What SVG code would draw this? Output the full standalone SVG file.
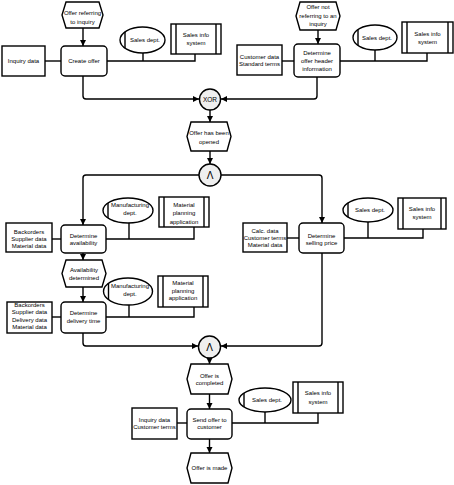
<svg xmlns="http://www.w3.org/2000/svg" width="454" height="485" viewBox="0 0 454 485">
<style>
.s{fill:#fff;stroke:#000;stroke-width:1.4}
.g{fill:#efefef;stroke:#000;stroke-width:1.4}
.l{fill:none;stroke:#000;stroke-width:1.4}
.c{fill:none;stroke:#000;stroke-width:1.4;marker-end:url(#ah)}
text{font-family:"Liberation Sans",Arial,sans-serif;font-size:6px;fill:#000;text-anchor:middle}
.op{font-size:6.5px}
.and{font-size:10px}
</style>
<defs>
<marker id="ah" markerUnits="userSpaceOnUse" markerWidth="7" markerHeight="7" refX="6" refY="3" orient="auto">
<path d="M0,0 L6,3 L0,6 Z" fill="#000"/>
</marker>
</defs>
<rect width="454" height="485" fill="#fff"/>
<g id="connectors">
<line class="l" x1="45" y1="61" x2="61" y2="61"/>
<polyline class="l" points="107,61 195,61 195,54"/>
<line class="l" x1="143" y1="53" x2="143" y2="61"/>
<line class="l" x1="282" y1="61" x2="294" y2="61"/>
<polyline class="l" points="340,61 427,61 427,53"/>
<line class="l" x1="375" y1="50" x2="375" y2="61"/>
<line class="c" x1="83" y1="28" x2="83" y2="46"/>
<line class="c" x1="318" y1="30" x2="318" y2="44"/>
<path class="c" d="M83,76 V96 Q83,99 86,99 H199"/>
<path class="c" d="M317,77 V96 Q317,99 314,99 H221"/>
<line class="c" x1="210" y1="110" x2="210" y2="122"/>
<line class="c" x1="210" y1="151" x2="210" y2="164"/>
<path class="c" d="M199,175 H86 Q83,175 83,178 V225"/>
<path class="c" d="M221,175 H319 Q322,175 322,178 V223"/>
<line class="l" x1="52" y1="239" x2="61" y2="239"/>
<polyline class="l" points="106,239 194,239 194,227"/>
<line class="l" x1="129" y1="223" x2="129" y2="239"/>
<line class="c" x1="83" y1="253" x2="83" y2="260"/>
<line class="c" x1="83" y1="287" x2="83" y2="302"/>
<line class="l" x1="52" y1="317" x2="61" y2="317"/>
<polyline class="l" points="106,317 194,317 194,307"/>
<line class="l" x1="129" y1="305" x2="129" y2="317"/>
<path class="c" d="M83,333 V343 Q83,346 86,346 H198"/>
<path class="c" d="M322,253 V343 Q322,346 319,346 H221"/>
<line class="l" x1="287" y1="238" x2="299" y2="238"/>
<polyline class="l" points="344,238 423,238 423,229"/>
<line class="l" x1="368" y1="222" x2="368" y2="238"/>
<line class="c" x1="209.5" y1="358" x2="209.5" y2="364"/>
<line class="c" x1="209.5" y1="394" x2="209.5" y2="409"/>
<line class="l" x1="177" y1="423" x2="187" y2="423"/>
<polyline class="l" points="232,423 318,423 318,413"/>
<line class="l" x1="265" y1="412" x2="265" y2="423"/>
<line class="c" x1="209.5" y1="439" x2="209.5" y2="453"/>
</g>
<g id="e1"><path class="s" d="M66,2 H99 L103,15 L99,28 H66 L62,15 Z"/><text x="82.5" y="14.8">Offer referring</text><text x="82.5" y="23.8">to inquiry</text></g>
<g id="e2"><path class="s" d="M300,2 H336 L340,16 L336,30 H300 L296,16 Z"/><text x="318" y="9.4">Offer not</text><text x="318" y="18">referring to an</text><text x="318" y="26.2">inquiry</text></g>
<g id="f1"><rect class="s" x="61" y="46" width="46" height="30" rx="4"/><text x="84" y="63.1">Create offer</text></g>
<g id="f2"><rect class="s" x="294" y="44" width="46" height="33" rx="4"/><text x="317" y="55.4">Determine</text><text x="317" y="63.1">offer header</text><text x="317" y="70.6">information</text></g>
<g id="d1"><rect class="s" x="2" y="46" width="43" height="30"/><text x="23.5" y="63.1">Inquiry data</text></g>
<g id="d2"><rect class="s" x="237" y="45" width="45" height="30"/><text x="259.5" y="58.8">Customer data</text><text x="259.5" y="66.2">Standard terms</text></g>
<g id="o1"><ellipse class="s" cx="142.5" cy="40" rx="22.5" ry="13"/><line class="l" x1="125" y1="31.8" x2="125" y2="48.2"/><text x="145" y="42.1">Sales dept.</text></g>
<g id="o2"><ellipse class="s" cx="375" cy="37.5" rx="22" ry="12.5"/><line class="l" x1="358" y1="29.6" x2="358" y2="45.4"/><text x="377" y="39.6">Sales dept.</text></g>
<g id="s1"><rect class="s" x="171" y="24" width="50" height="30"/><line class="l" x1="176" y1="24" x2="176" y2="54"/><line class="l" x1="216" y1="24" x2="216" y2="54"/><text x="196" y="37.1">Sales info</text><text x="196" y="45.4">system</text></g>
<g id="s2"><rect class="s" x="402" y="22" width="51" height="31"/><line class="l" x1="407" y1="22" x2="407" y2="53"/><line class="l" x1="448" y1="22" x2="448" y2="53"/><text x="427.5" y="36.4">Sales info</text><text x="427.5" y="44.4">system</text></g>
<g id="xor"><circle class="g" cx="210" cy="99.5" r="10.5"/><text class="op" x="210" y="101.8">XOR</text></g>
<g id="e3"><path class="s" d="M191,122 H227 L231,136.5 L227,151 H191 L187,136.5 Z"/><text x="209" y="135.4">Offer has been</text><text x="209" y="143.8">opened</text></g>
<g id="and1"><circle class="g" cx="210" cy="175" r="11"/><text class="and" x="210" y="178.6">Λ</text></g>
<g id="f3"><rect class="s" x="61" y="225" width="45" height="28" rx="4"/><text x="83.5" y="237.6">Determine</text><text x="83.5" y="244.6">availability</text></g>
<g id="d3"><rect class="s" x="6" y="223" width="46" height="29"/><text x="29" y="233.8">Backorders</text><text x="29" y="241.1">Supplier data</text><text x="29" y="248.3">Material data</text></g>
<g id="o3"><ellipse class="s" cx="128" cy="210.5" rx="25" ry="12.5"/><line class="l" x1="108" y1="203" x2="108" y2="218"/><text x="130" y="207.1">Manufacturing</text><text x="130" y="214.8">dept.</text></g>
<g id="s3"><rect class="s" x="159" y="197" width="50" height="30"/><line class="l" x1="164" y1="197" x2="164" y2="227"/><line class="l" x1="204" y1="197" x2="204" y2="227"/><text x="184" y="207.1">Material</text><text x="184" y="215.4">planning</text><text x="184" y="223.8">application</text></g>
<g id="f4"><rect class="s" x="299" y="223" width="45" height="30" rx="4"/><text x="321.5" y="238.1">Determine</text><text x="321.5" y="245.4">selling price</text></g>
<g id="d4"><rect class="s" x="243" y="223" width="44" height="29"/><text x="265" y="233.1">Calc. data</text><text x="265" y="240.1">Customer terms</text><text x="265" y="247.1">Material data</text></g>
<g id="o5"><ellipse class="s" cx="368" cy="210" rx="25" ry="12"/><line class="l" x1="348" y1="202.8" x2="348" y2="217.2"/><text x="370" y="212.1">Sales dept.</text></g>
<g id="s5"><rect class="s" x="398" y="198" width="48" height="31"/><line class="l" x1="403" y1="198" x2="403" y2="229"/><line class="l" x1="441" y1="198" x2="441" y2="229"/><text x="422" y="211.4">Sales info</text><text x="422" y="218.8">system</text></g>
<g id="e4"><path class="s" d="M66,260 H102 L106,273.5 L102,287 H66 L62,273.5 Z"/><text x="84" y="272.3">Availability</text><text x="84" y="280.3">determined</text></g>
<g id="f5"><rect class="s" x="61" y="302" width="45" height="31" rx="4"/><text x="83.5" y="315.4">Determine</text><text x="83.5" y="322.8">delivery time</text></g>
<g id="d5"><rect class="s" x="7" y="302" width="45" height="31"/><text x="29.5" y="307.1">Backorders</text><text x="29.5" y="314.4">Supplier data</text><text x="29.5" y="322.1">Delivery data</text><text x="29.5" y="329.4">Material data</text></g>
<g id="o4"><ellipse class="s" cx="128" cy="291.5" rx="24.5" ry="13.5"/><line class="l" x1="108.5" y1="283.3" x2="108.5" y2="299.7"/><text x="130" y="288.1">Manufacturing</text><text x="130" y="295.8">dept.</text></g>
<g id="s4"><rect class="s" x="158" y="276" width="50" height="31"/><line class="l" x1="163" y1="276" x2="163" y2="307"/><line class="l" x1="203" y1="276" x2="203" y2="307"/><text x="183" y="285.4">Material</text><text x="183" y="292.8">planning</text><text x="183" y="300.4">application</text></g>
<g id="and2"><circle class="g" cx="209.5" cy="347" r="11"/><text class="and" x="209.5" y="350.6">Λ</text></g>
<g id="e5"><path class="s" d="M191,364 H228 L232,379 L228,394 H191 L187,379 Z"/><text x="209.5" y="378.1">Offer is</text><text x="209.5" y="385.1">completed</text></g>
<g id="f6"><rect class="s" x="187" y="409" width="45" height="30" rx="4"/><text x="209.5" y="422.1">Send offer to</text><text x="209.5" y="429.4">customer</text></g>
<g id="d6"><rect class="s" x="132" y="408" width="45" height="31"/><text x="154.5" y="422.1">Inquiry data</text><text x="154.5" y="429.4">Customer terms</text></g>
<g id="o6"><ellipse class="s" cx="265" cy="400" rx="26" ry="12"/><line class="l" x1="244" y1="392.9" x2="244" y2="407.1"/><text x="267" y="402.1">Sales dept.</text></g>
<g id="s6"><rect class="s" x="293" y="382" width="50" height="31"/><line class="l" x1="298" y1="382" x2="298" y2="413"/><line class="l" x1="338" y1="382" x2="338" y2="413"/><text x="318" y="395.4">Sales info</text><text x="318" y="403.8">system</text></g>
<g id="e6"><path class="s" d="M191,453 H228 L232,468 L228,483 H191 L187,468 Z"/><text x="209.5" y="470.1">Offer is made</text></g>
</svg>
